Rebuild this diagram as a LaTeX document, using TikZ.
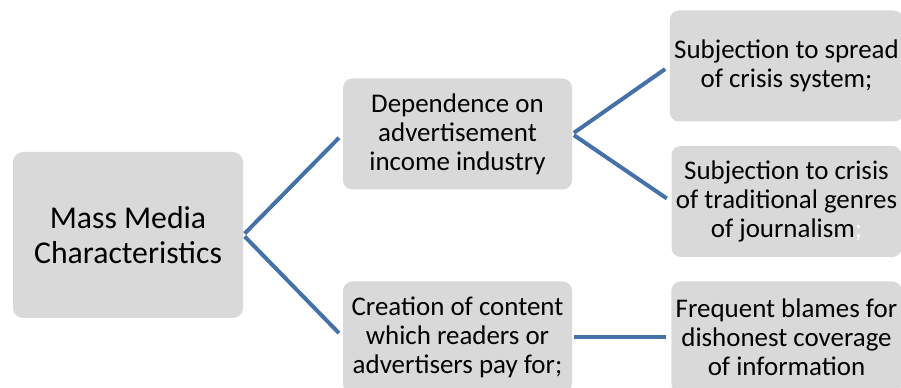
\documentclass[tikz,border=0pt]{standalone}
\usepackage{fontspec}
\setmainfont{Carlito}
\usepackage{xcolor}
\usepackage{tikz}
\usetikzlibrary{positioning}
\definecolor{boxbg}{RGB}{217,217,217}
\definecolor{linkline}{RGB}{68,114,168}
\tikzset{
  rootbox/.style={fill=boxbg, rounded corners=7.5pt, align=center,
    minimum width=172.5pt, minimum height=124.5pt,
    font=\fontsize{23.8pt}{26pt}\selectfont},
  itembox/.style={fill=boxbg, rounded corners=7pt, align=center,
    minimum width=171.75pt, minimum height=83.25pt,
    font=\fontsize{20.2pt}{21.75pt}\selectfont},
  link/.style={draw=linkline, line width=3pt, shorten <=1.5pt, shorten >=4pt}
}

\begin{document}
\begin{tikzpicture}[x=0.75pt,y=-0.75pt]
  \useasboundingbox (0,0) rectangle (901,388);

  \node[rootbox] (root) at (128,235) {Mass Media\\Characteristics};

  \node[itembox] (income) at (457.5,134) {Dependence on\\advertisement\\income industry};
  \node[itembox] (content) at (457.5,337) {Creation of content\\which readers or\\advertisers pay for;};

  \node[itembox] (spread) at (786.5,66) {Subjection to spread\\of crisis system;};
  \node[itembox] (genres) at (786.5,201.5) {Subjection to crisis\\of traditional genres\\of journalism\textcolor{white}{;}};
  \node[itembox] (blames) at (786.5,337) {Frequent blames for\\dishonest coverage\\of information};

  \draw[link] (root.east) -- (income.west);
  \draw[link] (root.east) -- (content.west);
  \draw[link] (income.east) -- (spread.west);
  \draw[link] (income.east) -- (genres.west);
  \draw[link] (content.east) -- (blames.west);
\end{tikzpicture}
\end{document}
